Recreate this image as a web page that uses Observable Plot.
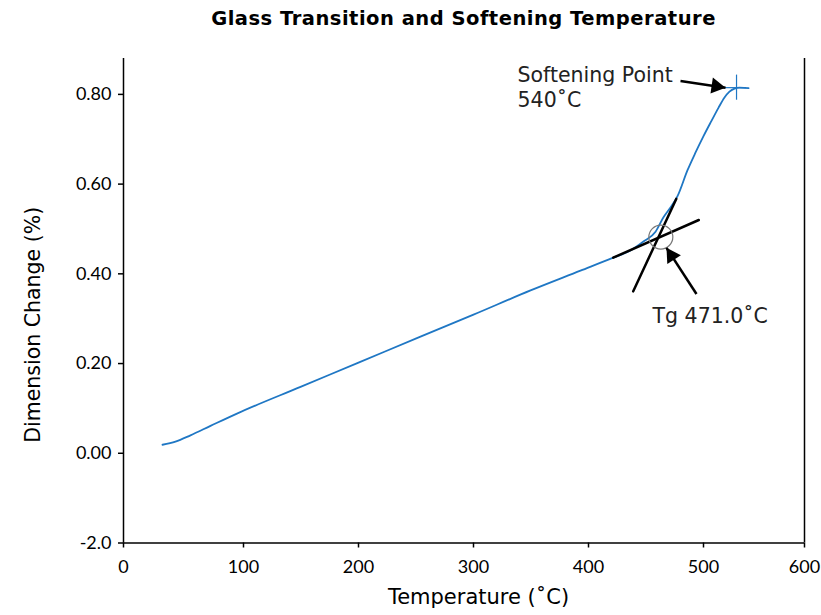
<!DOCTYPE html>
<html>
<head>
<meta charset="utf-8">
<script src="https://cdn.jsdelivr.net/npm/d3@7"></script>
<script src="https://cdn.jsdelivr.net/npm/@observablehq/plot@0.6"></script>
<style>
  html, body { margin: 0; padding: 0; background: #fff; }
  #wrap { width: 821px; height: 615px; position: relative; color: #000; }
  #title { height: 40px; line-height: 37px; padding-left: 123px; width: 681px; text-align: center; font-weight: bold; font-size: 19.5px; letter-spacing: 0.5px; font-family: "DejaVu Sans", sans-serif; }
  svg { display: block; }
</style>
</head>
<body>
<div id="wrap">
  <div id="title">Glass Transition and Softening Temperature</div>
  <div id="chart"></div>
</div>
<script>
// ---------- data ----------
const xTicks = [0, 100, 200, 300, 400, 500, 600];
const xTickLabels = ["0", "100", "200", "300", "400", "500", "600"];
const yTicks = [-0.2, 0, 0.2, 0.4, 0.6, 0.8];
const yTickLabels = ["-2.0", "0.00", "0.20", "0.40", "0.60", "0.80"];

// temperature (°C) and dimension change (%) of the measured curve
const temperature = [32.5, 43.3, 55.8, 72.5, 95.0, 149.6, 200.0, 253.9, 300.0, 349.6, 393.0, 421.5, 436.5, 447.8, 458.3, 465.2, 471.3, 477.4, 486.1, 493.0, 500.0, 507.9, 514.8, 520.8, 525.7, 530.7, 535.6, 544.6];
const dimChange   = [0.019, 0.026, 0.040, 0.061, 0.089, 0.148, 0.202, 0.260, 0.309, 0.363, 0.407, 0.436, 0.452, 0.472, 0.494, 0.526, 0.548, 0.573, 0.631, 0.670, 0.707, 0.741, 0.770, 0.793, 0.806, 0.813, 0.815, 0.814];

// tangent lines for Tg construction
const tangentSteep   = { t: [438.9, 476.3], d: [0.361, 0.567] };
const tangentShallow = { t: [421.5, 495.9], d: [0.436, 0.520] };
const tgPoint = { t: 462.9, d: 0.482 };

// softening point marker
const softPoint = { t: 532.7, d: 0.815, t1: 521.8, t2: 542.6, d1: 0.787, d2: 0.843 };

// annotation arrows (from -> to tip)
const arrowSoft = { x1: 480.0, y1: 0.830, x2: 521.8, y2: 0.815 };
const arrowTg   = { x1: 493.9, y1: 0.355, x2: 467.8, y2: 0.458 };

// annotation texts
const labels = [
  { t: 338.3, d: 0.843, text: "Softening Point" },
  { t: 338.3, d: 0.787, text: "540˚C" },
  { t: 455.7, d: 0.305, text: "Tg 471.0˚C" }
];

// ---------- scale configuration ----------
// the reference axis has unevenly spaced ticks; reproduce via a piecewise warp
const xTickPx = [123, 243, 358, 473, 588, 703, 804];
const xLeft = 123, xRight = 804;
const warp = d3.scaleLinear().domain(xTicks).range(xTickPx.map(p => (p - xLeft) * 600 / (xRight - xLeft)));
const warpedTicks = xTicks.map(warp);
const yDomain = [-0.2, 0.88];
const yRange = [502.5, 18];
const W = 821, H = 575;

const curve = temperature.map((t, i) => ({ t, d: dimChange[i] }));
const toRows = o => o.t.map((t, i) => ({ t, d: o.d[i] }));

// helper scales (same config as the Plot scales) to orient the arrowheads
const sx = d3.scaleLinear().domain(xTicks).range(xTickPx);
const sy = d3.scaleLinear().domain(yDomain).range(yRange);
const headR = 6;
const tipDist = 2 * Math.sqrt((Math.PI * headR * headR) / (3 * Math.sqrt(3)));
function headMark(a) {
  const px = sx(a.x2) - sx(a.x1), py = sy(a.y2) - sy(a.y1);
  const ang = Math.atan2(py, px);
  return Plot.dot([a], {
    x: "x2", y: "y2", symbol: "triangle", r: headR, fill: "black", stroke: "none",
    rotate: ang * 180 / Math.PI + 90,
    dx: -Math.cos(ang) * tipDist, dy: -Math.sin(ang) * tipDist
  });
}

const blue = "#1f77c4";
const textFont = "'DejaVu Sans', sans-serif";

const chart = Plot.plot({
  width: W,
  height: H,
  marginLeft: 123, marginRight: 17, marginTop: 18, marginBottom: 72.5,
  style: { fontFamily: "Lato, 'Open Sans', sans-serif", color: "#000", background: "#fff" },
  x: { domain: [0, 600], range: [xLeft, xRight], transform: warp },
  y: { domain: yDomain, range: yRange },
  marks: [
    Plot.axisX({ ticks: warpedTicks, tickFormat: d => xTickLabels[warpedTicks.findIndex(v => Math.abs(v - d) < 1e-6)], tickSize: 5, tickPadding: 12, fontSize: 18, label: null, strokeWidth: 1.5 }),
    Plot.axisY({ ticks: yTicks, tickFormat: d => yTickLabels[yTicks.findIndex(v => Math.abs(v - d) < 1e-9)], tickSize: 5, tickPadding: 7, fontSize: 18, label: null, strokeWidth: 1.5 }),
    Plot.ruleX([0, 600], { stroke: "#000", strokeWidth: 1.5 }),
    Plot.ruleY([-0.2], { stroke: "#000", strokeWidth: 1.5 }),
    Plot.text(["Temperature (˚C)"], { frameAnchor: "bottom", textAnchor: "middle", lineAnchor: "middle", dx: 14.5, dy: 54.5, fontSize: 21, fontFamily: textFont }),
    Plot.text(["Dimension Change (%)"], { frameAnchor: "left", textAnchor: "middle", lineAnchor: "middle", rotate: -90, dx: -90, dy: 24, fontSize: 20.5, fontFamily: textFont }),
    Plot.line(curve, { x: "t", y: "d", stroke: blue, strokeWidth: 1.8, curve: "monotone-x" }),
    Plot.line(toRows(tangentSteep), { x: "t", y: "d", stroke: "#000", strokeWidth: 2.5 }),
    Plot.line(toRows(tangentShallow), { x: "t", y: "d", stroke: "#000", strokeWidth: 2.5 }),
    Plot.dot([tgPoint], { x: "t", y: "d", r: 12, stroke: "#777", strokeWidth: 1.2, fill: "none" }),
    Plot.ruleX([softPoint], { x: "t", y1: "d1", y2: "d2", stroke: blue, strokeWidth: 1.2 }),
    Plot.ruleY([softPoint], { y: "d", x1: "t1", x2: "t2", stroke: blue, strokeWidth: 1.2 }),
    Plot.link([arrowSoft], { x1: "x1", y1: "y1", x2: "x2", y2: "y2", stroke: "#000", strokeWidth: 2.5 }),
    headMark(arrowSoft),
    Plot.link([arrowTg], { x1: "x1", y1: "y1", x2: "x2", y2: "y2", stroke: "#000", strokeWidth: 2.5 }),
    headMark(arrowTg),
    Plot.text(labels, { x: "t", y: "d", text: "text", textAnchor: "start", fontSize: 20.5, fill: "#222", fontFamily: textFont })
  ]
});
document.getElementById("chart").appendChild(chart);
</script>
</body>
</html>
